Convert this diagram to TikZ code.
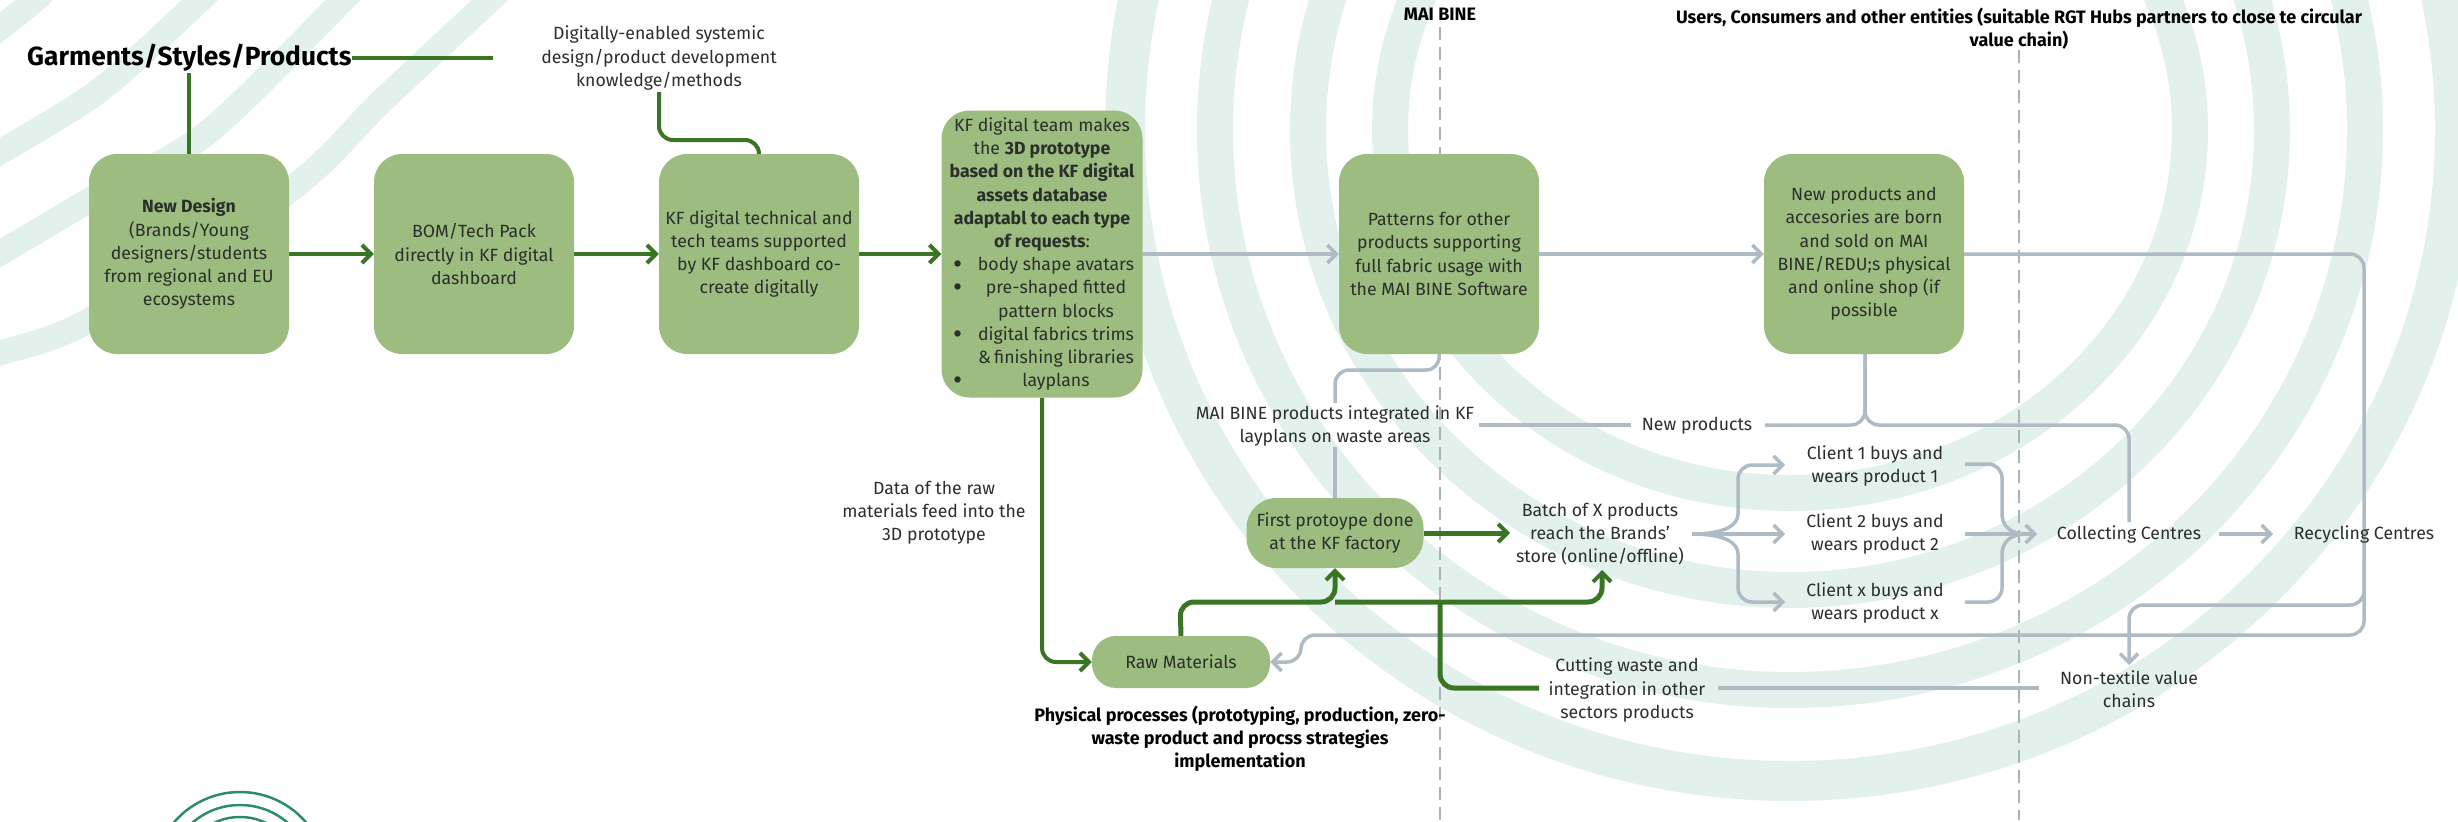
\documentclass[tikz,border=0pt]{standalone}
\usepackage{fontspec}
\setmainfont{Fira Sans}
\usetikzlibrary{arrows.meta}
\pgfdeclarelayer{conn}
\pgfdeclarelayer{ringlayer}
\pgfsetlayers{ringlayer,conn,main}
\definecolor{ringc}{HTML}{E3F1EC}
\definecolor{boxg}{HTML}{9CBD7F}
\definecolor{lineg}{HTML}{3A7526}
\definecolor{lineb}{HTML}{AEBBC4}
\definecolor{dashc}{HTML}{A9B4BA}
\definecolor{inkc}{HTML}{2B2F2B}
\definecolor{logoc}{HTML}{2E8B6E}
\newcommand{\teamitem}[2]{\rlap{\makebox[190pt][l]{\hspace{6pt}\raisebox{-3pt}{\fontsize{28}{23}\selectfont #1}}}\makebox[190pt][c]{\hspace{28pt}#2}}
\tikzset{
  x=1pt,y=-1pt,
  ring/.style={draw=ringc,line width=36pt},
  bandc/.style={draw=ringc,line width=25pt},
  logoarc/.style={draw=logoc,line width=2.5pt},
  boxn/.style={fill=boxg,rounded corners=28pt,inner sep=0pt,align=center,text=inkc,font=\fontsize{17.7}{23.2}\selectfont},
  bigbox/.style={boxn,minimum width=200pt,minimum height=200pt},
  lbl/.style={inner sep=0pt,align=center,text=inkc,font=\fontsize{17.7}{23.2}\selectfont},
  blbl/.style={inner sep=0pt,align=center,text=black,font=\fontsize{18}{23.2}\selectfont\bfseries},
  gl/.style={draw=lineg,line width=4pt,rounded corners=14pt},
  glt/.style={draw=lineg,line width=5pt,rounded corners=14pt},
  bl/.style={draw=lineb,line width=3.5pt,rounded corners=14pt},
  gtip/.style={-{Straight Barb[length=9pt,width=18pt,line width=4pt]}},
  btip/.style={-{Straight Barb[length=9pt,width=18pt,line width=3.5pt]}},
  dashl/.style={draw=dashc,line width=2.5pt,dash pattern=on 13pt off 7pt},
}
\begin{document}
\begin{tikzpicture}
\useasboundingbox (0,0) rectangle (2458,822);
\begin{pgfonlayer}{ringlayer}
\begin{scope}
\clip (0,0) rectangle (2458,822);
\draw[ring,line width=40pt] (1790,130) ellipse [x radius=665,y radius=651];
\draw[ring] (1790,130) ellipse [x radius=575,y radius=560];
\draw[ring] (1790,130) ellipse [x radius=482,y radius=460];
\draw[ring] (1790,130) ellipse [x radius=400,y radius=363];
\draw[bandc] plot[smooth] coordinates {(500,-10) (490,0) (383,100) (290,190) (90,320) (0,353) (-15,358)};
\draw[bandc] plot[smooth] coordinates {(352,-10) (343,0) (207,133) (90,200) (0,253) (-15,260)};
\draw[bandc] plot[smooth] coordinates {(210,-10) (200,0) (100,90) (0,152) (-15,160)};
\draw[bandc] plot[smooth] coordinates {(45,-10) (35,0) (0,28) (-15,38)};
\draw[logoarc] (240,879) circle [radius=87];
\draw[logoarc] (240,878) circle [radius=73];
\draw[logoarc] (240,877) circle [radius=60];
\end{scope}
\end{pgfonlayer}

% boxes
\node[bigbox] (nd) at (189,254) {\textbf{New Design}\\(Brands/Young\\designers/students\\from regional and EU\\ecosystems};
\node[bigbox] (bom) at (474,254) {BOM/Tech Pack\\directly in KF digital\\dashboard};
\node[bigbox] (kft) at (759,254) {KF digital technical and\\tech teams supported\\by KF dashboard co-\\create digitally};
\node[boxn,minimum width=201pt,minimum height=287pt] (team) at (1042,254) {KF digital team makes\\the \textbf{3D prototype}\\\textbf{based on the KF digital}\\\textbf{assets database}\\\textbf{adaptabl to each type}\\\textbf{of requests}:\\\teamitem{•}{body shape avatars}\\\teamitem{•}{pre-shaped fitted}\\\teamitem{}{pattern blocks}\\\teamitem{•}{digital fabrics trims}\\\teamitem{}{\&\,finishing libraries}\\\teamitem{•}{layplans}};
\node[bigbox] (pat) at (1439,254) {Patterns for other\\products supporting\\full fabric usage with\\the MAI BINE Software};
\node[bigbox] (newp) at (1864,254) {New products and\\accesories are born\\and sold on MAI\\BINE/REDU;s physical\\and online shop (if\\possible};
\node[boxn,minimum width=178pt,minimum height=52pt,rounded corners=24pt] (raw) at (1181,662) {Raw Materials};
\node[boxn,minimum width=177pt,minimum height=70pt,rounded corners=30pt] (first) at (1335,533) {First protoype done\\at the KF factory};

% labels
\node[inner sep=0pt,text=black,anchor=west,font=\fontsize{26.3}{30}\selectfont\bfseries] (garm) at (27,58) {Garments/Styles/Products};
\node[lbl] (digi) at (659,58) {Digitally-enabled systemic\\design/product development\\knowledge/methods};
\node[blbl] (mai) at (1440,14) {MAI BINE};
\node[blbl] (users) at (2019,29) {Users, Consumers and other entities (suitable RGT Hubs partners to close te circular\\value chain)};
\node[lbl] (maip) at (1335,426) {MAI BINE products integrated in KF\\layplans on waste areas};
\node[lbl] (newl) at (1697,426) {New products};
\node[lbl] (data) at (934,513) {Data of the raw\\materials feed into the\\3D prototype};
\node[lbl] (batch) at (1600,534) {Batch of X products\\reach the Brands'\\store (online/offline)};
\node[lbl] (c1) at (1875,466) {Client 1 buys and\\wears product 1};
\node[lbl] (c2) at (1875,534) {Client 2 buys and\\wears product 2};
\node[lbl] (c3) at (1875,603) {Client x buys and\\wears product x};
\node[lbl] (coll) at (2129,534) {Collecting Centres};
\node[lbl] (recy) at (2364,534) {Recycling Centres};
\node[lbl] (cut) at (1627,690) {Cutting waste and\\integration in other\\sectors products};
\node[lbl] (nont) at (2129,689) {Non-textile value\\chains};
\node[blbl] (phys) at (1240,739) {Physical processes (prototyping, production, zero-\\waste product and procss strategies\\implementation};

\begin{pgfonlayer}{conn}
\coordinate (dashAtop) at (1440,27);
\coordinate (dashAbot) at (1440,820);
\coordinate (dashBtop) at (2019,50);
\coordinate (dashBbot) at (2019,820);
\draw[dashl] (dashAtop) -- (dashAbot);
\draw[dashl] (dashBtop) -- (dashBbot);

% grey connectors
\draw[bl,btip] (team.east) -- (pat.west);
\draw[bl,btip] (pat.east) -- (newp.west);
\coordinate (rightTop) at (2364,254);
\coordinate (rightBot) at (2364,635);
\coordinate (rawRetA) at (1301,635);
\coordinate (rawRetB) at (1301,662);
\draw[bl,btip] (newp.east) -- (rightTop) -- (rightBot) -- (rawRetA) -- (rawRetB) -- (raw.east);
\coordinate (nonA) at (2364,560);
\coordinate (nonJ) at (2364,605);
\coordinate (nonB) at (2129,605);
\coordinate (nonTip) at (2129,665);
\draw[bl,btip] (nonA) -- (nonJ) -- (nonB) -- (nonTip);
\coordinate (patA) at (1440,370);
\coordinate (patB) at (1335,370);
\coordinate (patC) at (1335,403);
\coordinate (patD) at (1335,447);
\draw[bl] (pat.south) -- (patA) -- (patB) -- (patC);
\draw[bl] (patD) -- (first.north);
\coordinate (nJ) at (1865,425);
\coordinate (nL) at (1765,425);
\coordinate (nR) at (2129,425);
\coordinate (nDown) at (2129,522);
\coordinate (nUp) at (1865,354);
\draw[bl] (nUp) -- (nJ) -- (nL);
\draw[bl] (nUp) -- (nJ) -- (nR) -- (nDown);
\coordinate (maiL) at (1479,425);
\coordinate (maiR) at (1631,425);
\draw[bl] (maiL) -- (maiR);
% fan out
\coordinate (fanS) at (1692,534);
\coordinate (fanM) at (1785,534);
\coordinate (fanU) at (1785,465);
\coordinate (fanD) at (1785,602);
\coordinate (fanUa) at (1738,500);
\coordinate (fanUb) at (1738,465);
\coordinate (fanDa) at (1738,568);
\coordinate (fanDb) at (1738,602);
\draw[bl,btip] (fanS) -- (fanM);
\draw[bl,btip] (fanS) .. controls (1725,534) and (1738,525) .. (fanUa) -- (fanUb) -- (fanU);
\draw[bl,btip] (fanS) .. controls (1725,534) and (1738,543) .. (fanDa) -- (fanDb) -- (fanD);
% fan in
\coordinate (inS) at (1965,534);
\coordinate (inT) at (2037,534);
\coordinate (inU) at (1965,464);
\coordinate (inD) at (1965,602);
\coordinate (inUb) at (2002,464);
\coordinate (inUa) at (2002,500);
\coordinate (inDb) at (2002,602);
\coordinate (inDa) at (2002,568);
\coordinate (inE) at (2025,534);
\draw[bl,btip] (inS) -- (inT);
\draw[bl] (inU) -- (inUb) -- (inUa) .. controls (2002,525) and (2010,534) .. (inE);
\draw[bl] (inD) -- (inDb) -- (inDa) .. controls (2002,543) and (2010,534) .. (inE);
\coordinate (collE) at (2219,534);
\coordinate (recyW) at (2273,534);
\draw[bl,btip] (collE) -- (recyW);
\coordinate (cutE) at (1718,688);
\coordinate (nontW) at (2039,688);
\draw[bl] (cutE) -- (nontW);

% green connectors
\coordinate (titleEnd) at (493,58);
\draw[gl] (garm.east) -- (titleEnd);
\coordinate (garmDown) at (189,73);
\draw[gl] (garmDown) -- (nd.north);
\coordinate (digiDown) at (659,92);
\coordinate (digiBend) at (659,140);
\coordinate (kftBend) at (759,140);
\draw[gl] (digiDown) -- (digiBend) -- (kftBend) -- (kft.north);
\draw[gl,gtip] (nd.east) -- (bom.west);
\draw[gl,gtip] (bom.east) -- (kft.west);
\draw[gl,gtip] (kft.east) -- (team.west);
\coordinate (teamBend) at (1042,662);
\draw[gl,gtip] (team.south) -- (teamBend) -- (raw.west);
\coordinate (rawUp) at (1180,602);
\coordinate (firstJ) at (1335,602);
\coordinate (batchJ) at (1602,602);
\coordinate (batchTip) at (1602,570);
\draw[glt,gtip] (raw.north) -- (rawUp) -- (firstJ) -- (first.south);
\draw[glt,gtip] (firstJ) -- (batchJ) -- (batchTip);
\coordinate (firstTip) at (1510,533);
\draw[glt,gtip] (first.east) -- (firstTip);
\coordinate (cutJ) at (1440,602);
\coordinate (cutBend) at (1440,688);
\coordinate (cutEnd) at (1539,688);
\draw[glt] (cutJ) -- (cutBend) -- (cutEnd);
\end{pgfonlayer}
\end{tikzpicture}
\end{document}
